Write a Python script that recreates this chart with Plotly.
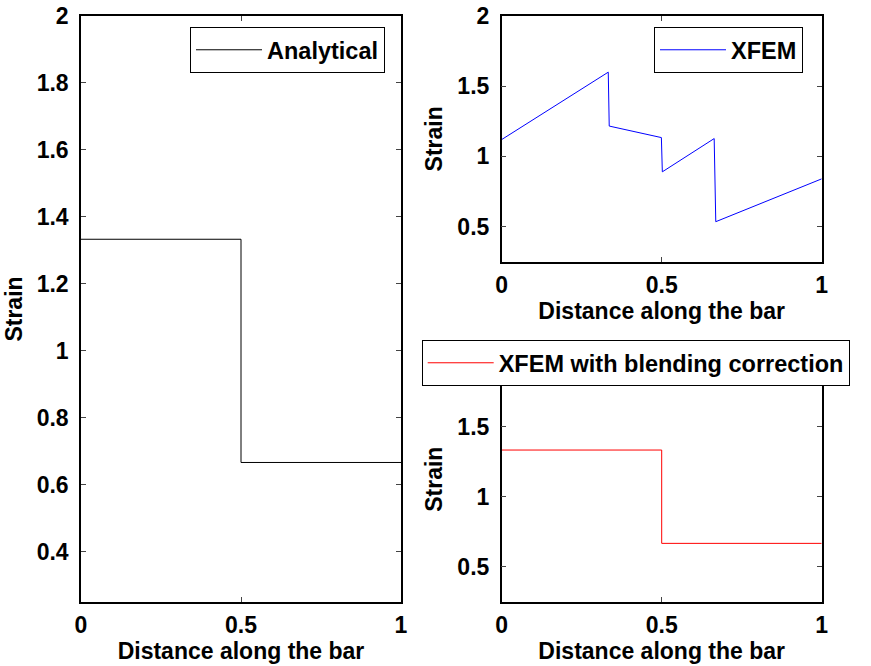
import plotly.graph_objects as go

W, H = 871, 666

# Data
x_analytical = [0.0, 0.5, 0.5, 1.0]
y_analytical = [1.3333, 1.3333, 0.6667, 0.6667]

x_xfem = [0.0, 0.333, 0.336, 0.499, 0.502, 0.664, 0.669, 1.0]
y_xfem = [1.12, 1.60, 1.216, 1.134, 0.89, 1.127, 0.535, 0.84]

x_blend = [0.0, 0.5, 0.5, 1.0]
y_blend = [1.3333, 1.3333, 0.6667, 0.6667]

x_ticks = [0, 0.5, 1]
x_ticklabels = ["0", "0.5", "1"]
y_ticks_left = [0.4, 0.6, 0.8, 1.0, 1.2, 1.4, 1.6, 1.8, 2.0]
y_ticklabels_left = ["0.4", "0.6", "0.8", "1", "1.2", "1.4", "1.6", "1.8", "2"]
y_ticks_right = [0.5, 1.0, 1.5, 2.0]
y_ticklabels_right = ["0.5", "1", "1.5", "2"]

FONT = "Liberation Sans, Arial, sans-serif"
FS = 23

def px(x0, x1):
    return [x0 / W, x1 / W]

def py(top, bottom):
    return [1 - bottom / H, 1 - top / H]

fig = go.Figure()
fig.add_trace(go.Scatter(x=x_analytical, y=y_analytical, mode="lines",
                         line=dict(color="black", width=1), name="Analytical",
                         xaxis="x", yaxis="y", legend="legend"))
fig.add_trace(go.Scatter(x=x_xfem, y=y_xfem, mode="lines",
                         line=dict(color="#0000ff", width=1), name="XFEM",
                         xaxis="x2", yaxis="y2", legend="legend2"))
fig.add_trace(go.Scatter(x=x_blend, y=y_blend, mode="lines",
                         line=dict(color="#ff0000", width=1), name="XFEM with blending correction",
                         xaxis="x3", yaxis="y3", legend="legend3"))

axis_common = dict(showline=True, linecolor="black", linewidth=1.5, mirror="ticks",
                   ticks="inside", ticklen=5, tickcolor="#444", tickwidth=1,
                   showgrid=False, zeroline=False, automargin=False,
                   tickfont=dict(family=FONT, size=FS, color="black", weight="bold"))

def xax(domain, anchor):
    return dict(axis_common, domain=domain, anchor=anchor, range=[0, 1],
                tickvals=x_ticks, ticktext=x_ticklabels, ticklabelstandoff=2,
                title=dict(text="<b>Distance along the bar</b>",
                           font=dict(family=FONT, size=FS, color="black"), standoff=2))

def yax(domain, anchor, tv, tt, rng):
    return dict(axis_common, domain=domain, anchor=anchor, range=rng,
                tickvals=tv, ticktext=tt, ticklabelstandoff=6,
                title=dict(text="<b>Strain</b>",
                           font=dict(family=FONT, size=FS, color="black"), standoff=8))

leg_common = dict(bgcolor="white", bordercolor="black", borderwidth=1,
                  font=dict(family=FONT, size=23.5, color="black", weight="bold"),
                  itemwidth=66, xanchor="left", yanchor="top")

fig.update_layout(
    width=W, height=H,
    margin=dict(l=0, r=0, t=0, b=0, autoexpand=False),
    paper_bgcolor="white", plot_bgcolor="white",
    showlegend=True,
    xaxis=xax(px(81, 401), "y"),
    yaxis=yax(py(16, 602), "x", y_ticks_left, y_ticklabels_left, [0.25, 2]),
    xaxis2=xax(px(501.7, 821.7), "y2"),
    yaxis2=yax(py(16, 261.7), "x2", y_ticks_right, y_ticklabels_right, [0.25, 2]),
    xaxis3=xax(px(501.7, 821.7), "y3"),
    yaxis3=yax(py(356.7, 601.7), "x3", y_ticks_right, y_ticklabels_right, [0.25, 2]),
    legend=dict(leg_common, x=190 / W, y=1 - 27 / H),
    legend2=dict(leg_common, x=654 / W, y=1 - 27 / H),
    legend3=dict(leg_common, x=421.7 / W, y=1 - 340 / H),
)

fig.write_html("out.html")
